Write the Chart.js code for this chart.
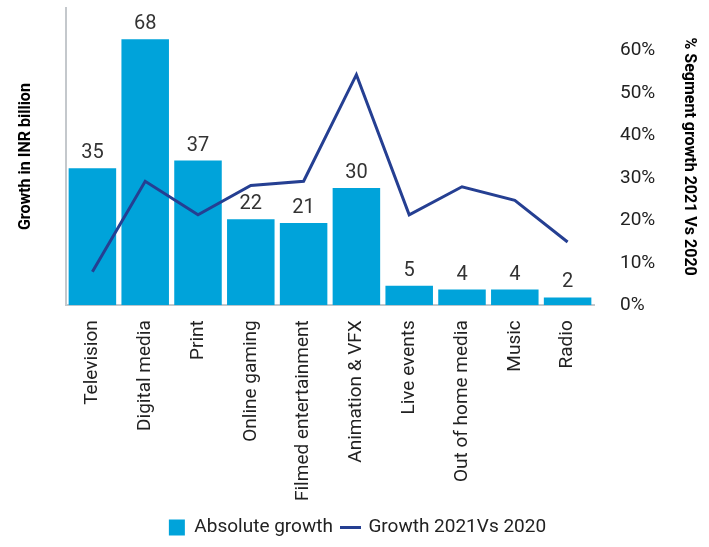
<!DOCTYPE html>
<html>
<head>
<meta charset="utf-8">
<script src="https://cdn.jsdelivr.net/npm/chart.js@4/dist/chart.umd.min.js"></script>
<style>
  html, body { margin: 0; padding: 0; background: #fff; }
  #wrap { width: 709px; height: 547px; }
</style>
</head>
<body>
<div id="wrap"><canvas id="growth-chart"></canvas></div>
<script>
const segments = ['Television', 'Digital media', 'Print', 'Online gaming', 'Filmed entertainment',
    'Animation & VFX', 'Live events', 'Out of home media', 'Music', 'Radio']
const absoluteGrowth = [35, 68, 37, 22, 21, 30, 5, 4, 4, 2]
const growthPct = [7.9, 29.2, 21.3, 28.2, 29.2, 54.3, 21.3, 27.9, 24.7, 14.9]
const pctTicks = [0, 10, 20, 30, 40, 50, 60]

const FONT = 'Roboto, "Noto Sans", sans-serif'
const BAR_BLUE = '#00a3da'
const LINE_BLUE = '#253f92'
const TEXT = '#222'

Chart.defaults.font.family = FONT
Chart.defaults.color = TEXT

// small dash used as the legend marker for the line series
const lineMarker = document.createElement('canvas')
lineMarker.width = 21
lineMarker.height = 3
const lm = lineMarker.getContext('2d')
lm.fillStyle = LINE_BLUE
lm.fillRect(0, 0, 21, 3)

// value labels above each bar
const barValues = {
    id: 'barValues',
    afterDatasetsDraw(chart) {
        const meta = chart.getDatasetMeta(0)
        const c = chart.ctx
        c.save()
        c.font = '20px ' + FONT
        c.fillStyle = '#333'
        c.textAlign = 'center'
        c.textBaseline = 'bottom'
        meta.data.forEach((bar, i) => {
            c.fillText(absoluteGrowth[i], bar.x, bar.y - 5)
        })
        c.restore()
    }
}

const ctx = document.getElementById('growth-chart').getContext('2d')
const myChart = new Chart(ctx, {
    data: {
        labels: segments,
        datasets: [{
            type: 'bar',
            label: 'Absolute growth',
            data: absoluteGrowth,
            backgroundColor: BAR_BLUE,
            yAxisID: 'y',
            barPercentage: 0.9,
            categoryPercentage: 1,
            pointStyle: 'rect',
            order: 1
        }, {
            type: 'line',
            label: 'Growth 2021Vs 2020',
            data: growthPct,
            borderColor: LINE_BLUE,
            backgroundColor: LINE_BLUE,
            borderWidth: 3,
            pointRadius: 0,
            tension: 0,
            yAxisID: 'y1',
            pointStyle: lineMarker,
            order: 0
        }]
    },
    options: {
        responsive: true,
        maintainAspectRatio: false,
        animation: false,
        layout: { padding: { top: 8, left: 16, right: 10, bottom: 0 } },
        plugins: {
            tooltip: { enabled: false },
            legend: {
                position: 'bottom',
                labels: {
                    usePointStyle: true,
                    boxWidth: 16,
                    boxHeight: 16,
                    padding: 10,
                    color: TEXT,
                    font: { size: 19 },
                    sort: (a, b) => a.datasetIndex - b.datasetIndex
                }
            }
        },
        scales: {
            x: {
                grid: { display: false },
                border: { color: '#c4c8cc', width: 2 },
                afterFit: axis => { axis.paddingLeft = 0; axis.paddingRight = 0 },
                ticks: {
                    minRotation: 90,
                    maxRotation: 90,
                    autoSkip: false,
                    padding: 7,
                    color: TEXT,
                    font: { size: 19 }
                }
            },
            y: {
                position: 'left',
                min: 0,
                max: 76,
                grid: { display: false },
                border: { color: '#c4c8cc', width: 2 },
                ticks: { display: false },
                afterFit: axis => { axis.width = 50 },
                title: {
                    display: true,
                    text: 'Growth in INR billion',
                    color: '#000',
                    font: { size: 16, weight: 'bold' },
                    padding: { top: 0, bottom: 31 }
                }
            },
            y1: {
                position: 'right',
                min: 0,
                max: 70,
                grid: { display: false },
                border: { display: false },
                afterBuildTicks: axis => { axis.ticks = pctTicks.map(v => ({ value: v })) },
                // tick padding is only wanted sideways, not above/below the plot
                afterFit: axis => { axis.paddingTop = 0; axis.paddingBottom = 0; axis.width = 105 },
                ticks: {
                    padding: 18,
                    color: TEXT,
                    font: { size: 19 },
                    callback: v => v + '%'
                },
                title: {
                    display: true,
                    text: '% Segment growth 2021 Vs 2020',
                    color: '#000',
                    font: { size: 16, weight: 'bold' },
                    padding: { top: 0, bottom: 32 }
                }
            }
        }
    },
    plugins: [barValues]
})
</script>
</body>
</html>
